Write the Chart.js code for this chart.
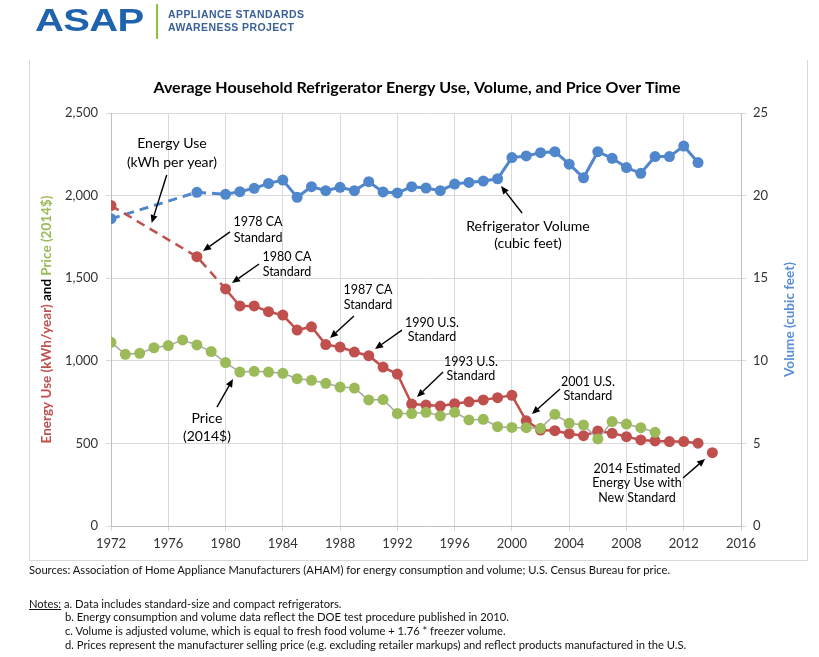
<!DOCTYPE html>
<html><head><meta charset="utf-8">
<script src="https://cdn.jsdelivr.net/npm/chart.js@4.4.0/dist/chart.umd.min.js"></script>
<style>
html,body{margin:0;padding:0;background:#fff;}
#wrap{position:relative;width:819px;height:657px;overflow:hidden;font-family:Lato,'Open Sans',sans-serif;}
#c{position:absolute;left:0;top:0;}
.frame{position:absolute;left:29px;top:60px;width:777px;height:500px;border-left:1px solid #d9d9d9;border-right:1px solid #d9d9d9;border-bottom:1px solid #d9d9d9;}
.logo-big{position:absolute;left:35px;top:0px;font-family:'Liberation Sans',Arial,sans-serif;font-weight:bold;font-size:32px;color:#1f62ad;transform:scaleX(1.25);transform-origin:left top;letter-spacing:-0.5px;line-height:40px;}
.logo-bar{position:absolute;left:156px;top:4px;width:2px;height:35px;background:#8cc63f;}
.logo-txt{position:absolute;left:168px;top:8px;font-family:'Liberation Sans',Arial,sans-serif;font-weight:bold;font-size:10.5px;color:#3a6198;line-height:13px;letter-spacing:0.4px;}
.notes{position:absolute;left:29px;top:563px;font-size:11.2px;color:#111;line-height:13.7px;white-space:nowrap;}
.notes .ind{padding-left:36px;}
</style></head><body>
<div id="wrap">
<canvas id="c" width="819" height="657" style="width:819px;height:657px"></canvas>
<div class="frame"></div>
<div class="logo-big">ASAP</div>
<div class="logo-bar"></div>
<div class="logo-txt">APPLIANCE STANDARDS<br>AWARENESS PROJECT</div>
<div class="notes">
<div>Sources: Association of Home Appliance Manufacturers (AHAM) for energy consumption and volume; U.S. Census Bureau for price.</div>
<div style="height:20px"></div>
<div><span style="text-decoration:underline">Notes:</span> a. Data includes standard-size and compact refrigerators.</div>
<div class="ind">b. Energy consumption and volume data reflect the DOE test procedure published in 2010.</div>
<div class="ind">c. Volume is adjusted volume, which is equal to fresh food volume + 1.76 * freezer volume.</div>
<div class="ind">d. Prices represent the manufacturer selling price (e.g. excluding retailer markups) and reflect products manufactured in the U.S.</div>
</div>
</div>
<script>
// ---------------- DATA ----------------
const years = [1972,1973,1974,1975,1976,1977,1978,1979,1980,1981,1982,1983,1984,1985,1986,1987,1988,1989,1990,1991,1992,1993,1994,1995,1996,1997,1998,1999,2000,2001,2002,2003,2004,2005,2006,2007,2008,2009,2010,2011,2012,2013];
const energyUse = [1940,null,null,null,null,null,1630,null,1435,1332,1332,1297,1277,1186,1206,1098,1083,1053,1031,962,920,738,732,726,740,752,763,777,791,637,581,577,559,547,575,561,541,521,515,511,511,501];
const volume = [18.6,null,null,null,null,null,20.2,null,20.08,20.24,20.44,20.74,20.94,19.9,20.54,20.3,20.5,20.3,20.84,20.22,20.16,20.54,20.46,20.3,20.7,20.8,20.88,21.02,22.3,22.4,22.6,22.66,21.9,21.08,22.66,22.26,21.7,21.35,22.36,22.36,23.0,22.0];
const price = [1112,1039,1045,1079,1092,1126,1096,1056,989,932,936,932,924,892,882,864,841,835,763,765,681,681,688,666,688,642,646,601,597,595,591,676,622,611,527,632,617,595,567,null,null,null];
const estimateYears = [2014];
const estimateEnergy = [444];
const xTicks = [1972,1976,1980,1984,1988,1992,1996,2000,2004,2008,2012,2016];
const leftTicks = [0,500,1000,1500,2000,2500];
const rightTicks = [0,5,10,15,20,25];

const chartTitle = 'Average Household Refrigerator Energy Use, Volume, and Price Over Time';
// annotations: anchor in data units (year, left-axis value)
const labels = [
  {x:1976.26,y:2318,lines:['Energy Use','(kWh per year)'],size:14,gap:19},
  {x:1982.27,y:1840,lines:['1978 CA','Standard'],size:12.5,gap:16},
  {x:1984.29,y:1628,lines:['1980 CA','Standard'],size:12.5,gap:15},
  {x:1989.95,y:1428,lines:['1987 CA','Standard'],size:12.5,gap:15},
  {x:1994.42,y:1229,lines:['1990 U.S.','Standard'],size:12.5,gap:14},
  {x:1997.14,y:993,lines:['1993 U.S.','Standard'],size:12.5,gap:14},
  {x:2005.31,y:872,lines:['2001 U.S.','Standard'],size:12.5,gap:14},
  {x:2008.74,y:345,lines:['2014 Estimated','Energy Use with','New Standard'],size:12.5,gap:14.3},
  {x:1978.70,y:648,lines:['Price','(2014$)'],size:14,gap:18},
  {x:2001.12,y:1816,lines:['Refrigerator Volume','(cubic feet)'],size:14,gap:17}
];
const arrows = [
  {from:[1975.89,2125],to:[1974.84,1834]},
  {from:[1980.31,1780],to:[1978.43,1665]},
  {from:[1982.34,1586],to:[1980.45,1471]},
  {from:[1988.97,1271],to:[1987.30,1138]},
  {from:[1992.32,1186],to:[1990.44,1071]},
  {from:[1995.19,932],to:[1993.37,781]},
  {from:[2003.36,829],to:[2001.40,678]},
  {from:[2011.95,291],to:[2013.49,406]},
  {from:[1979.40,720],to:[1980.52,890]},
  {from:[2000.71,1895],to:[1999.24,2058]}
];

// ---------------- COLOURS ----------------
const RED='#c0504d', GREEN='#9bbb59', BLUE='#4f86cc', GREY_LINE='#a6a6a6';
const FONT="Lato, 'Open Sans', sans-serif";

const toXY = (ys, vs) => ys.map((y,i)=>({x:y,y:vs[i]}));
const dashEarly = ctx => ctx.p1.parsed.x <= 1980 ? [9,6] : undefined;

const decor = {
  id:'decor',
  afterDraw(chart){
    const {ctx, scales} = chart;
    const xs = scales.x, ys = scales.y;
    ctx.save();
    // title
    ctx.fillStyle='#000';
    ctx.font="bold 16px "+FONT;
    ctx.textAlign='center'; ctx.textBaseline='middle';
    ctx.fillText(chartTitle, 417, 88);
    // left axis title (multi-colour)
    ctx.save();
    const cy=(chart.chartArea.top+chart.chartArea.bottom)/2;
    ctx.translate(47, cy);
    ctx.rotate(-Math.PI/2);
    ctx.font="bold 13.5px "+FONT;
    const parts=[['Energy Use (kWh/year) ',RED],['and ','#000'],['Price (2014$)',GREEN]];
    const tot=parts.reduce((s,p)=>s+ctx.measureText(p[0]).width,0);
    let px=-tot/2;
    ctx.textAlign='left';
    for(const [t,c] of parts){ctx.fillStyle=c;ctx.fillText(t,px,0);px+=ctx.measureText(t).width;}
    ctx.restore();
    // right axis title
    ctx.save();
    ctx.translate(790, cy);
    ctx.rotate(-Math.PI/2);
    ctx.font="bold 13.5px "+FONT;
    ctx.fillStyle='#5b8fd6';
    ctx.textAlign='center';
    ctx.fillText('Volume (cubic feet)',0,0);
    ctx.restore();
    // labels
    ctx.fillStyle='#000';
    ctx.textAlign='center';
    for(const l of labels){
      ctx.font=l.size+"px "+FONT;
      const x=xs.getPixelForValue(l.x), y=ys.getPixelForValue(l.y);
      l.lines.forEach((t,i)=>ctx.fillText(t,x,y+i*l.gap));
    }
    // arrows
    ctx.strokeStyle='#000'; ctx.fillStyle='#000'; ctx.lineWidth=1.4;
    for(const a of arrows){
      const x1=xs.getPixelForValue(a.from[0]), y1=ys.getPixelForValue(a.from[1]);
      const x2=xs.getPixelForValue(a.to[0]), y2=ys.getPixelForValue(a.to[1]);
      const ang=Math.atan2(y2-y1,x2-x1), L=8, W=3.5;
      const bx=x2-L*Math.cos(ang), by=y2-L*Math.sin(ang);
      ctx.beginPath(); ctx.moveTo(x1,y1); ctx.lineTo(bx,by); ctx.stroke();
      ctx.beginPath(); ctx.moveTo(x2,y2);
      ctx.lineTo(bx+W*Math.sin(ang), by-W*Math.cos(ang));
      ctx.lineTo(bx-W*Math.sin(ang), by+W*Math.cos(ang));
      ctx.closePath(); ctx.fill();
    }
    ctx.restore();
  }
};

new Chart(document.getElementById('c'), {
  type:'line',
  data:{datasets:[
    {label:'Volume',data:toXY(years,volume),yAxisID:'y2',borderColor:BLUE,backgroundColor:BLUE,borderWidth:3,pointRadius:5.5,pointBorderWidth:0,pointBackgroundColor:BLUE,spanGaps:true,segment:{borderDash:dashEarly},order:3},
    {label:'Energy',data:toXY(years,energyUse),yAxisID:'y',borderColor:RED,backgroundColor:RED,borderWidth:2.5,pointRadius:5.5,pointBorderWidth:0,pointBackgroundColor:RED,spanGaps:true,segment:{borderDash:dashEarly},order:2},
    {label:'Estimate',data:toXY(estimateYears,estimateEnergy),yAxisID:'y',showLine:false,borderColor:RED,backgroundColor:RED,pointRadius:5.5,pointBorderWidth:0,order:2},
    {label:'Price',data:toXY(years,price),yAxisID:'y',borderColor:GREY_LINE,backgroundColor:GREEN,borderWidth:1.5,pointRadius:5.5,pointBorderWidth:0,pointBackgroundColor:GREEN,order:1}
  ]},
  options:{
    responsive:false, animation:false, devicePixelRatio:1,
    layout:{padding:{left:0,right:0,top:113,bottom:101}},
    plugins:{legend:{display:false},tooltip:{enabled:false},title:{display:false}},
    scales:{
      x:{type:'linear',min:1972,max:2016,
        afterBuildTicks:s=>{s.ticks=xTicks.map(v=>({value:v}));},
        afterFit:s=>{s.height=30;},
        grid:{color:'#d9d9d9',tickLength:5},border:{color:'#bfbfbf'},
        ticks:{padding:5,color:'#333',font:{family:FONT,size:13},callback:v=>String(v),maxRotation:0}},
      y:{position:'left',min:0,max:2500,
        afterBuildTicks:s=>{s.ticks=leftTicks.map(v=>({value:v}));},
        afterFit:s=>{s.width=111;},
        grid:{color:'#d9d9d9',tickLength:5},border:{color:'#bfbfbf'},
        ticks:{padding:8,color:'#333',font:{family:FONT,size:13},callback:v=>v.toLocaleString('en-US')}},
      y2:{position:'right',min:0,max:25,
        afterBuildTicks:s=>{s.ticks=rightTicks.map(v=>({value:v}));},
        afterFit:s=>{s.width=78;},
        grid:{drawOnChartArea:false,color:'#d9d9d9',tickLength:5},border:{color:'#bfbfbf'},
        ticks:{padding:7,color:'#333',font:{family:FONT,size:13}}}
    }
  },
  plugins:[decor]
});
</script>
</body></html>
